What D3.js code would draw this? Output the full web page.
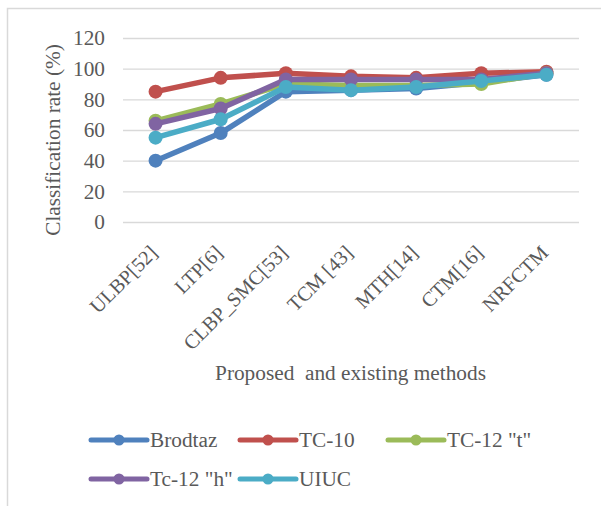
<!DOCTYPE html>
<html>
<head>
<meta charset="utf-8">
<script src="https://cdn.jsdelivr.net/npm/d3@7"></script>
<style>
	body { margin: 0; background: #fff; }
	svg text { font-family: "Liberation Serif", "Times New Roman", serif !important; fill: #595959; }
</style>
</head>
<body>
<div id="chart"></div>
<script>
const methods = ["ULBP[52]", "LTP[6]", "CLBP_SMC[53]", "TCM [43]", "MTH[14]", "CTM[16]", "NRFCTM"];
const brodtaz = [40, 58, 85, 86, 87, 91, 96];
const tc10 = [85, 94, 97, 95, 94, 97, 98];
const tc12t = [66, 77, 90, 89, 89, 90, 97];
const tc12h = [64, 74, 93, 93, 93, 93, 97];
const uiuc = [55, 67, 88, 86, 88, 92, 96];
const yTicks = [0, 20, 40, 60, 80, 100, 120];

const series = [
	{ name: "Brodtaz", values: brodtaz, color: "#4f81bd" },
	{ name: "TC-10", values: tc10, color: "#c0504d" },
	{ name: "TC-12 \"t\"", values: tc12t, color: "#9bbb59" },
	{ name: "Tc-12 \"h\"", values: tc12h, color: "#8064a2" },
	{ name: "UIUC", values: uiuc, color: "#4bacc6" }
];

let width = 601,
	height = 506,
	plotL = 123,
	plotR = 579,
	plotT = 38,
	plotB = 222,
	fs = "21.3px";

const svg = d3
	.select("#chart")
	.append("svg")
	.attr("width", width)
	.attr("height", height);

// frame (only partly visible)
svg.append("path")
	.attr("d", `M7.5,${height + 2} V8.5 H${width + 2}`)
	.attr("fill", "none")
	.attr("stroke", "#d9d9d9")
	.attr("stroke-width", 1.5);

const x = d3.scalePoint().domain(methods).range([plotL, plotR]).padding(0.5);
const y = d3.scaleLinear().domain([0, 120]).range([plotB, plotT]);

// gridlines + y labels
const yAxis = svg.append("g")
	.attr("transform", `translate(${plotL},0)`)
	.call(d3.axisLeft(y).tickValues(yTicks).tickSize(-(plotR - plotL)).tickPadding(18));
yAxis.select(".domain").remove();
yAxis.selectAll("line").attr("stroke", "#d9d9d9").attr("stroke-width", 1.3);
yAxis.selectAll("text")
	.style("font-size", fs)
	.style("fill", "#595959");

// x labels, rotated
const xAxis = svg.append("g")
	.attr("transform", `translate(0,${plotB})`)
	.call(d3.axisBottom(x).tickSize(0).tickPadding(0));
xAxis.select(".domain").remove();
xAxis.selectAll(".tick").attr("transform", (d) => `translate(${x(d) + 3},32)`);
xAxis.selectAll("text")
	.style("font-size", "20.3px")
	.style("fill", "#595959")
	.attr("text-anchor", "end")
	.attr("dy", null)
	.attr("y", 0)
	.attr("transform", "rotate(-45)");

// titles
svg.append("text")
	.attr("transform", `translate(60,140) rotate(-90)`)
	.attr("text-anchor", "middle")
	.style("font-size", fs)
	.text("Classification rate (%)");

svg.append("text")
	.attr("x", 350.5)
	.attr("y", 380)
	.attr("text-anchor", "middle")
	.style("font-size", fs)
	.attr("xml:space", "preserve")
	.text("Proposed  and existing methods");

// lines
const line = d3.line()
	.x((d, i) => x(methods[i]))
	.y((d) => y(d));

const g = svg.selectAll(".series")
	.data(series)
	.enter()
	.append("g")
	.attr("class", "series");

g.append("path")
	.attr("d", (d) => line(d.values))
	.attr("fill", "none")
	.attr("stroke", (d) => d.color)
	.attr("stroke-width", 5.5)
	.attr("stroke-linejoin", "round");

g.selectAll("circle")
	.data((d) => d.values.map((v, i) => ({ v, i, color: d.color })))
	.enter()
	.append("circle")
	.attr("cx", (d) => x(methods[d.i]))
	.attr("cy", (d) => y(d.v))
	.attr("r", 7)
	.attr("fill", (d) => d.color);

// legend
const legendPos = [[91, 440], [240, 440], [388, 440], [91, 479], [240, 479]];
const legend = svg.selectAll(".legend")
	.data(series)
	.enter()
	.append("g")
	.attr("class", "legend")
	.attr("transform", (d, i) => `translate(${legendPos[i][0]},${legendPos[i][1]})`);

legend.append("line")
	.attr("x1", 0)
	.attr("x2", 56)
	.attr("stroke", (d) => d.color)
	.attr("stroke-width", 5)
	.attr("stroke-linecap", "round");
legend.append("circle")
	.attr("cx", 28)
	.attr("r", 5.5)
	.attr("fill", (d) => d.color);
legend.append("text")
	.attr("x", 59)
	.attr("dy", "0.33em")
	.style("font-size", fs)
	.text((d) => d.name);
</script>
</body>
</html>
